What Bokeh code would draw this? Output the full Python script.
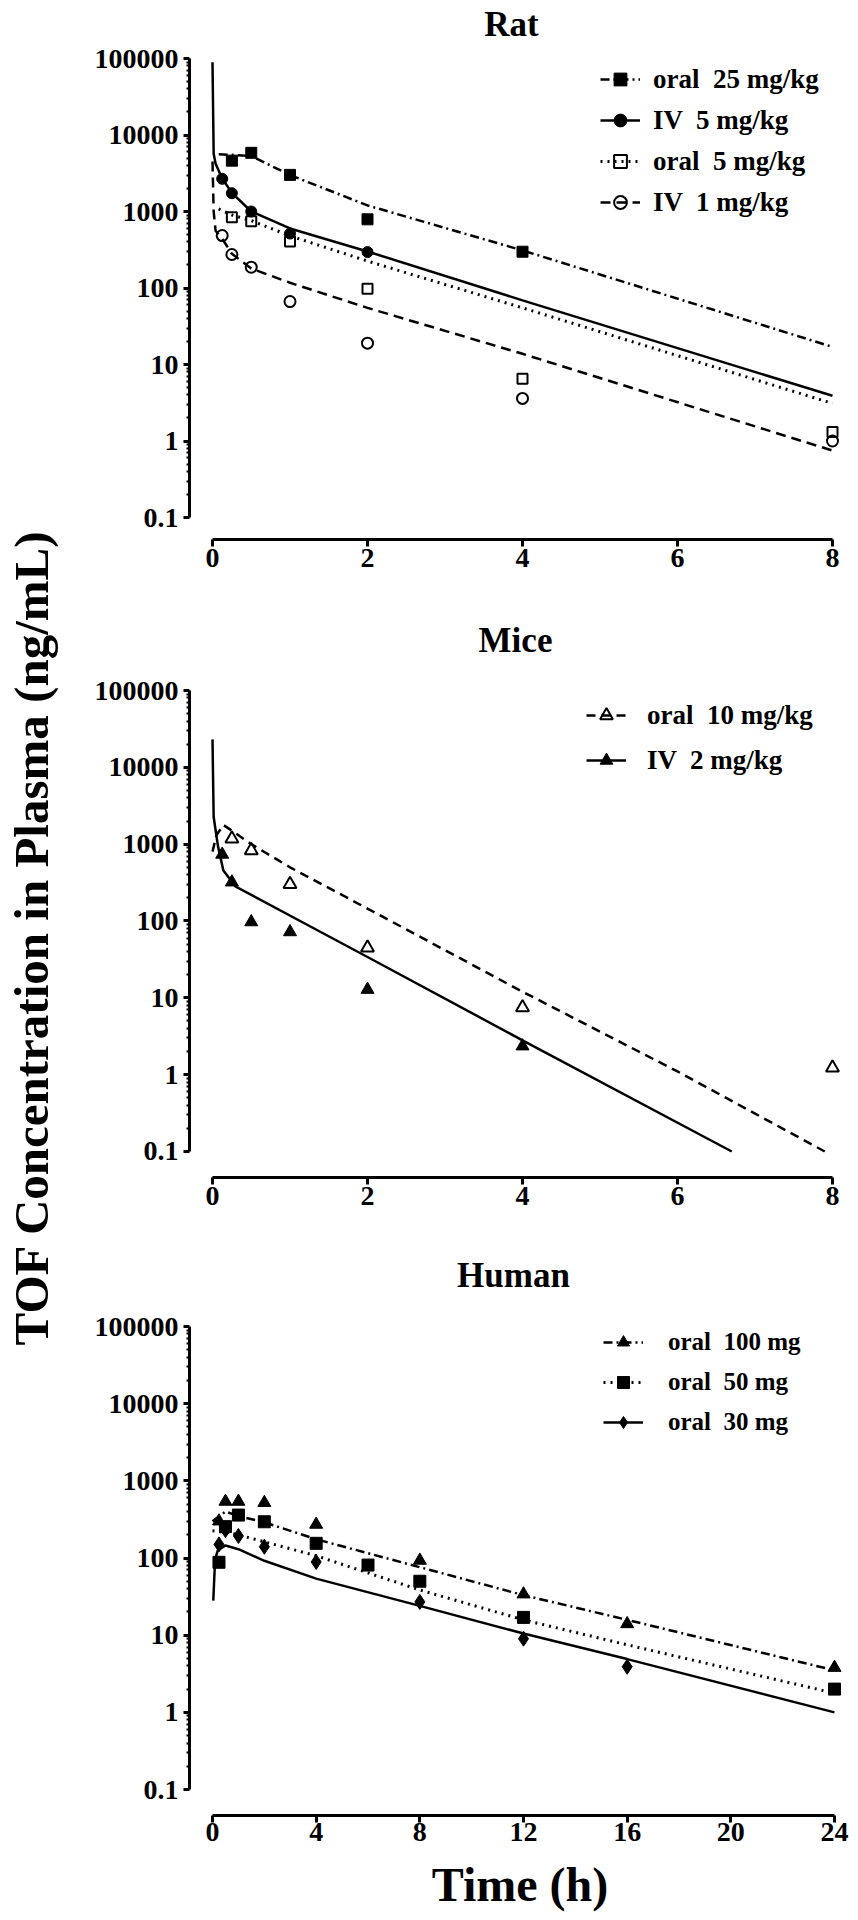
from bokeh.plotting import figure
from bokeh.models import FixedTicker, Range1d, Label, Legend, LegendItem
from bokeh.layouts import row, column
from bokeh.embed import file_html
from bokeh.resources import INLINE

FONT = "Liberation Serif"

# ---------------- data: Rat ----------------
rat_t_oral25 = [0.25, 0.5, 1, 2, 4]
rat_c_oral25 = [4620, 5850, 3010, 790, 298]
rat_t_iv5 = [0.125, 0.25, 0.5, 1, 2]
rat_c_iv5 = [2675, 1735, 1000, 515, 295]
rat_t_oral5 = [0.25, 0.5, 1, 2, 4, 8]
rat_c_oral5 = [843, 747, 405, 98, 6.5, 1.31]
rat_t_iv1 = [0.125, 0.25, 0.5, 1, 2, 4, 8]
rat_c_iv1 = [485, 274, 187, 66.5, 19, 3.6, 1.0]

rat_fit_t_oral25 = [0.08, 0.25, 0.5, 1, 2, 4, 8]
rat_fit_c_oral25 = [5600, 5500, 5300, 3000, 1200, 310, 17]
rat_fit_t_iv5 = [0, 0.015, 0.04, 0.125, 0.25, 0.5, 1, 2, 4, 8]
rat_fit_c_iv5 = [89600, 5700, 4200, 2700, 1750, 1000, 600, 300, 69, 3.9]
rat_fit_t_oral5 = [0.08, 0.25, 0.5, 1, 2, 4, 8]
rat_fit_c_oral5 = [1080, 900, 760, 480, 225, 55, 3.1]
rat_fit_t_iv1 = [0, 0.015, 0.04, 0.125, 0.25, 0.5, 1, 2, 4, 8]
rat_fit_c_iv1 = [4500, 1000, 560, 440, 280, 180, 117, 55, 13.8, 0.75]

# ---------------- data: Mice ----------------
mice_t_oral10 = [0.25, 0.5, 1, 2, 4, 8]
mice_c_oral10 = [1180, 830, 300, 45, 7.5, 1.23]
mice_t_iv2 = [0.125, 0.25, 0.5, 1, 2, 4]
mice_c_iv2 = [735, 320, 97, 72, 12.8, 2.35]

mice_fit_t_oral10 = [0, 0.05, 0.14, 0.25, 0.5, 1, 2, 4, 6, 7.9]
mice_fit_c_oral10 = [800, 1300, 1780, 1500, 1000, 500, 145, 12, 1.1, 0.1]
mice_fit_t_iv2 = [0, 0.015, 0.07, 0.14, 0.3, 2, 4, 6.7]
mice_fit_c_iv2 = [23100, 2260, 950, 455, 280, 34, 2.8, 0.1]

# ---------------- data: Human ----------------
hum_t_100 = [0.25, 0.5, 1, 2, 4, 8, 12, 16, 24]
hum_c_100 = [300, 540, 540, 520, 272, 93, 34, 14, 3.8]
hum_t_50 = [0.25, 0.5, 1, 2, 4, 6, 8, 12, 24]
hum_c_50 = [88, 255, 360, 295, 155, 81, 50, 17, 2.0]
hum_t_30 = [0.25, 0.5, 1, 2, 4, 8, 12, 16]
hum_c_30 = [150, 230, 193, 140, 89, 27, 9, 3.9]

hum_fit_t_100 = [0, 0.5, 1, 2, 4, 8, 12, 16, 24]
hum_fit_c_100 = [300, 400, 350, 290, 175, 76, 33, 15.8, 3.5]
hum_fit_t_50 = [0, 0.5, 1, 2, 4, 8, 12, 16, 24]
hum_fit_c_50 = [225, 215, 200, 162, 107, 38.5, 15.8, 7.5, 1.77]
hum_fit_t_30 = [0.03, 0.1, 0.2, 0.5, 1, 2, 4, 8, 12, 16, 24]
hum_fit_c_30 = [28, 95, 125, 145, 130, 92, 54, 24, 10.5, 4.9, 1.0]

rat_labels = ["oral  25 mg/kg", "IV  5 mg/kg", "oral  5 mg/kg", "IV  1 mg/kg"]
mice_labels = ["oral  10 mg/kg", "IV  2 mg/kg"]
hum_labels = ["oral  100 mg", "oral  50 mg", "oral  30 mg"]

y_ticks = [0.1, 1, 10, 100, 1000, 10000, 100000]
y_tick_text = ["0.1", "1", "10", "100", "1000", "10000", "100000"]
minor = [m * 10.0 ** k for k in range(-1, 5) for m in range(2, 10)]

# page geometry (the page is drawn from its top-left corner)
PAGE_W = 858
PAGE_H = 1920
LAB_W = 78
PANEL_X = LAB_W            # page x of panel figures
PANEL_W = PAGE_W - LAB_W
FRAME_L = 189 - PANEL_X    # y-axis at page x 189
FRAME_R = PANEL_X + PANEL_W - 850
X0_PX = 212                # page x of t = 0


def make_panel(fig_top, height, bottom, y1e5, ppd, ppu, xmax, xticks, title, title_xy):
    frame_w = PANEL_W - FRAME_L - FRAME_R
    xs = -(X0_PX - (PANEL_X + FRAME_L)) / ppu
    xe = xs + frame_w / ppu
    frame_bottom = fig_top + height - bottom
    ls = 5 - (frame_bottom - y1e5) / ppd
    le = 5 + (y1e5 - fig_top) / ppd
    p = figure(width=PANEL_W, height=height, y_axis_type="log",
               x_range=Range1d(xs, xe), y_range=Range1d(10 ** ls, 10 ** le),
               toolbar_location=None, output_backend="svg",
               min_border_left=FRAME_L, min_border_right=FRAME_R,
               min_border_top=0, min_border_bottom=bottom)
    p.outline_line_color = None
    p.grid.visible = False
    p.background_fill_color = "white"

    ya = p.yaxis[0]
    ya.ticker = FixedTicker(ticks=y_ticks, minor_ticks=minor)
    ya.major_label_overrides = {t: s for t, s in zip(y_ticks, y_tick_text)}
    ya.bounds = (0.1, 100000)
    xa = p.xaxis[0]
    xa.ticker = FixedTicker(ticks=xticks)
    xa.bounds = (0, xmax)
    for ax in (xa, ya):
        ax.axis_line_width = 3
        ax.axis_line_color = "black"
        ax.major_tick_line_width = 3
        ax.major_tick_in = 0
        ax.minor_tick_in = 0
        ax.major_label_text_font = FONT
        ax.major_label_text_font_style = "bold"
        ax.major_label_text_font_size = "28px"
        ax.major_label_text_color = "black"
    ya.major_tick_out = 6
    ya.minor_tick_out = 3
    ya.minor_tick_line_width = 2
    ya.major_label_standoff = 5
    xa.major_tick_out = 7
    xa.minor_tick_line_color = None
    xa.major_label_standoff = 2

    tx = (title_xy[0] - X0_PX) / ppu
    ty = 10 ** (5 + (y1e5 - title_xy[1]) / ppd)
    p.add_layout(Label(x=tx, y=ty, text=title, text_font=FONT, text_font_style="bold",
                       text_font_size="35px", text_align="center",
                       text_baseline="middle", text_color="black"))
    return p


def add_series(p, t, c, ft, fc, marker, size, filled, dash, lw=2.5):
    lr = p.line(ft, fc, line_color="black", line_width=lw, line_dash=dash)
    if filled:
        sr = p.scatter(t, c, marker=marker, size=size, fill_color="black", line_color="black")
    else:
        sr = p.scatter(t, c, marker=marker, size=size, fill_color=None,
                       line_color="black", line_width=2)
    return lr, sr


def add_legend(p, items, vx, vy, font_size, row_h, spacing, standoff):
    leg = Legend(items=items, location=(vx, vy), border_line_color=None,
                 background_fill_alpha=0, padding=0, margin=0, spacing=spacing,
                 glyph_width=40, glyph_height=row_h, label_height=row_h,
                 label_standoff=standoff, label_text_font=FONT,
                 label_text_font_style="bold", label_text_font_size=font_size,
                 label_text_color="black")
    p.add_layout(leg)


# page y: Rat fig 0..600, Mice 600..1240, Human 1240..1920
# ---------------- Rat ----------------
rat = make_panel(0, 600, 600 - 539, 58, 76.5, 77.5, 8, [0, 2, 4, 6, 8], "Rat", (511, 24))
r1 = add_series(rat, rat_t_oral25, rat_c_oral25, rat_fit_t_oral25, rat_fit_c_oral25,
                "square", 11, True, "9 4 2 4")
r2 = add_series(rat, rat_t_iv5, rat_c_iv5, rat_fit_t_iv5, rat_fit_c_iv5,
                "circle", 11, True, "solid")
r3 = add_series(rat, rat_t_oral5, rat_c_oral5, rat_fit_t_oral5, rat_fit_c_oral5,
                "square", 10, False, "2 5", 3)
r4 = add_series(rat, rat_t_iv1, rat_c_iv1, rat_fit_t_iv1, rat_fit_c_iv1,
                "circle", 11, False, "10 6")
add_legend(rat, [LegendItem(label=l, renderers=[a, b]) for l, (a, b) in
                 zip(rat_labels, [r1, r2, r3, r4])],
           600 - 189, 539 - 218, "27px", 32, 9, 13)

# ---------------- Mice ----------------
mice = make_panel(600, 640, 1240 - 1177, 690, 76.83, 77.5, 8, [0, 2, 4, 6, 8],
                  "Mice", (515, 640))
m1 = add_series(mice, mice_t_oral10, mice_c_oral10, mice_fit_t_oral10, mice_fit_c_oral10,
                "triangle", 13, False, "9 6")
m2 = add_series(mice, mice_t_iv2, mice_c_iv2, mice_fit_t_iv2, mice_fit_c_iv2,
                "triangle", 13, True, "solid")
add_legend(mice, [LegendItem(label=l, renderers=[a, b]) for l, (a, b) in
                  zip(mice_labels, [m1, m2])],
           586 - 189, 1177 - 776, "27px", 32, 13, 21)

# ---------------- Human ----------------
HUM_TOP = 1240
HUM_H = PAGE_H - HUM_TOP
HUM_PPU = (834 - 212) / 24
human = make_panel(HUM_TOP, HUM_H, PAGE_H - 1815, 1326, 77.17, HUM_PPU, 24,
                   [0, 4, 8, 12, 16, 20, 24], "Human", (513, 1275))
h1 = add_series(human, hum_t_100, hum_c_100, hum_fit_t_100, hum_fit_c_100,
                "triangle", 13, True, "9 4 2 4")
h2 = add_series(human, hum_t_50, hum_c_50, hum_fit_t_50, hum_fit_c_50,
                "square", 12, True, "2 5", 3)
h3 = add_series(human, hum_t_30, hum_c_30, hum_fit_t_30, hum_fit_c_30,
                "diamond", 15, True, "solid")
add_legend(human, [LegendItem(label=l, renderers=[a, b]) for l, (a, b) in
                   zip(hum_labels, [h1, h2, h3])],
           603 - 189, 1815 - 1437, "25px", 30, 10, 25)
hx = human.xaxis[0]
hx.major_label_standoff = 0
hx.axis_label = "Time (h)"
hx.axis_label_text_font = FONT
hx.axis_label_text_font_style = "bold"
hx.axis_label_text_font_size = "48px"
hx.axis_label_text_color = "black"
hx.axis_label_standoff = 14

# ---------------- y-axis title strip ----------------
LAB_H = PAGE_H
lab = figure(width=LAB_W, height=LAB_H, x_range=Range1d(0, 1), y_range=Range1d(0, 1),
             x_axis_location=None, y_axis_location="left", toolbar_location=None,
             output_backend="svg", title=None,
             min_border_left=0, min_border_right=0, min_border_top=0,
             min_border_bottom=LAB_H - 2 * 937)
lab.outline_line_color = None
lab.grid.visible = False
la = lab.yaxis[0]
la.ticker = FixedTicker(ticks=[])
la.axis_line_color = None
la.major_tick_line_color = None
la.minor_tick_line_color = None
la.major_label_text_font_size = "0px"
la.axis_label = "TOF Concentration in Plasma (ng/mL)"
la.axis_label_text_font = FONT
la.axis_label_text_font_style = "bold"
la.axis_label_text_font_size = "49px"
la.axis_label_text_color = "black"
la.axis_label_standoff = 0

layout = row(lab, column(rat, mice, human))
open("out.html", "w").write(file_html(layout, INLINE))
